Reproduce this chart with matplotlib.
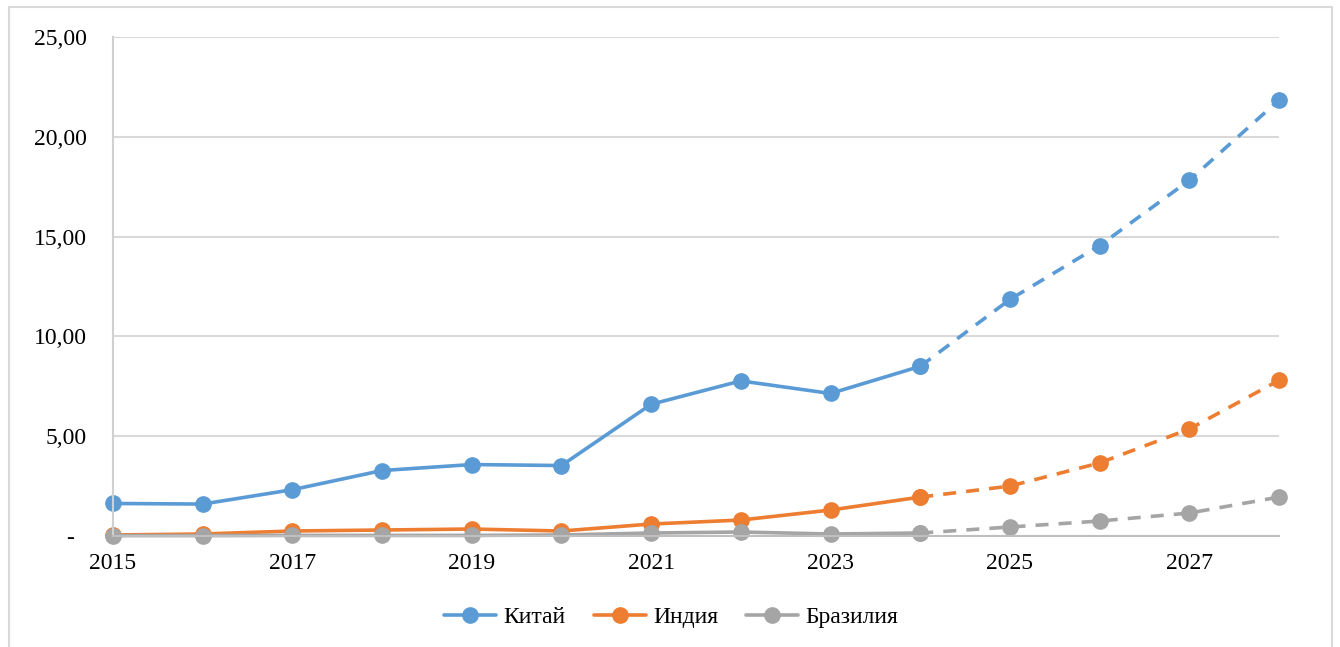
import matplotlib
matplotlib.use("Agg")
import matplotlib.pyplot as plt
from matplotlib.patches import Rectangle
from matplotlib.ticker import FixedLocator, FuncFormatter

plt.rcParams['font.family'] = ['Liberation Serif', 'DejaVu Serif']

# data (actual up to 2024, forecast after)
years = [2015, 2016, 2017, 2018, 2019, 2020, 2021, 2022, 2023, 2024, 2025, 2026, 2027, 2028]
china = [1.63, 1.60, 2.32, 3.28, 3.58, 3.53, 6.60, 7.77, 7.14, 8.50, 11.85, 14.55, 17.82, 21.84]
india = [0.05, 0.10, 0.25, 0.30, 0.35, 0.25, 0.60, 0.80, 1.30, 1.95, 2.50, 3.66, 5.36, 7.80]
brazil = [0.02, 0.02, 0.03, 0.03, 0.03, 0.05, 0.15, 0.20, 0.10, 0.15, 0.45, 0.75, 1.15, 1.95]
last_actual = 2024

names = ["Китай", "Индия", "Бразилия"]
series = [china, india, brazil]
colors = ["#5B9BD5", "#ED7D31", "#A5A5A5"]

fig = plt.figure(figsize=(13.4, 6.47), dpi=100)
fig.patches.append(Rectangle((9 / 1340, -0.05), 1323 / 1340, 1.05 - 7 / 647,
                             transform=fig.transFigure, fill=False,
                             edgecolor="#D9D9D9", linewidth=1.5))
ax = fig.add_axes([113 / 1340, 1 - 536 / 647, 1166 / 1340, 499 / 647])

k = years.index(last_actual)
handles = []
for name, vals, col in zip(names, series, colors):
    h, = ax.plot(years[:k + 1], vals[:k + 1], color=col, lw=2.6, marker="o",
                 markersize=11, solid_capstyle="round", label=name, clip_on=False)
    ax.plot(years[k:], vals[k:], color=col, lw=2.6, ls=(0, (3.6, 2.8)),
            marker="o", markersize=11, clip_on=False)
    handles.append(h)

ax.set_xlim(2015, 2028)
ax.set_ylim(0, 25)
ax.xaxis.set_major_locator(FixedLocator(list(range(2015, 2028, 2))))
ax.yaxis.set_major_locator(FixedLocator([0, 5, 10, 15, 20, 25]))


def fmt_y(v, pos):
    if v == 0:
        return "-  "
    return f"{v:.2f}".replace(".", ",")


ax.yaxis.set_major_formatter(FuncFormatter(fmt_y))
ax.tick_params(axis="both", length=0, labelsize=17, colors="black")
ax.tick_params(axis="y", pad=19)
ax.tick_params(axis="x", pad=12)
ax.grid(axis="y", color="#D9D9D9", linewidth=1.5)
ax.set_axisbelow(True)
for s in ["top", "right"]:
    ax.spines[s].set_visible(False)
ax.spines["left"].set_color("#D0D0D0")
ax.spines["left"].set_linewidth(1.5)
ax.spines["bottom"].set_color("#BFBFBF")
ax.spines["bottom"].set_linewidth(1.5)

fig.legend(handles=handles, labels=names, loc="center", bbox_to_anchor=(0.501, 0.046),
           ncol=3, frameon=False, fontsize=17, handlelength=2.2, columnspacing=1.2,
           handletextpad=0.3)

fig.savefig("out.png", dpi=100)
